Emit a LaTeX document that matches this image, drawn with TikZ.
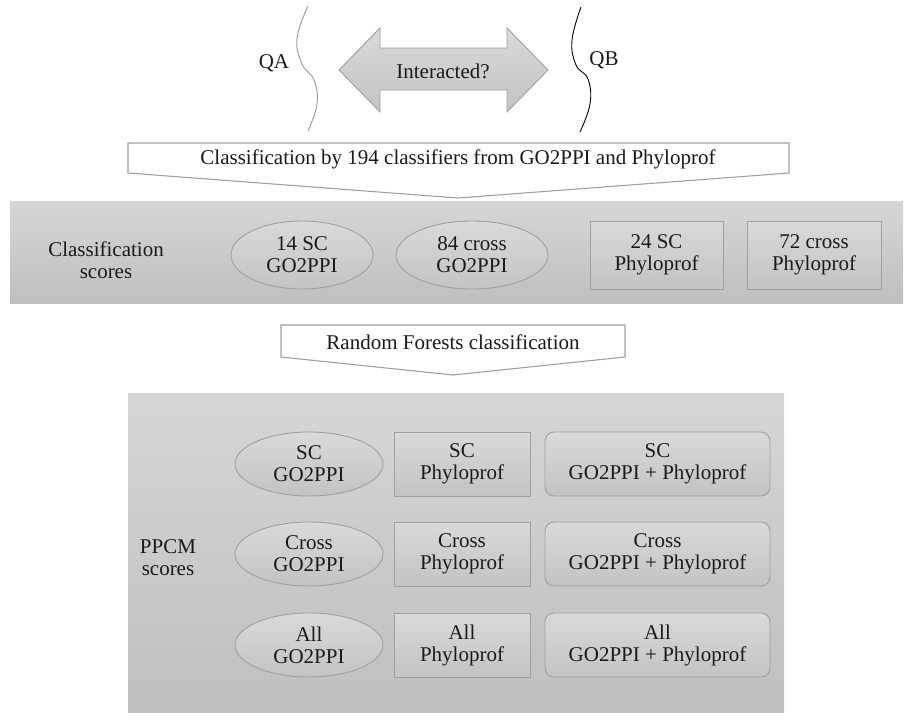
\documentclass[tikz,border=0pt]{standalone}
\usepackage{fontspec}
\setmainfont{Liberation Serif}
\usetikzlibrary{shapes.geometric}
\definecolor{bandtop}{HTML}{D6D6D6}
\definecolor{bandbot}{HTML}{BFBFBF}
\definecolor{ntop}{HTML}{D9D9D9}
\definecolor{nbot}{HTML}{C3C3C3}
\definecolor{nline}{HTML}{A0A0A0}
\definecolor{txt}{HTML}{1A1A1A}
\begin{document}
\begin{tikzpicture}[x=1pt,y=-1pt,
  every node/.style={font=\fontsize{21}{22}\selectfont, align=center, inner sep=0pt, text=txt},
  band/.style={top color=bandtop, bottom color=bandbot},
  shp/.style={draw=nline, line width=0.9pt, top color=ntop, bottom color=nbot},
  ell/.style={shp, ellipse},
  box/.style={shp, rectangle},
  rbox/.style={shp, rectangle, rounded corners=9pt},
  flowarrow/.style={draw=nline, line width=1.1pt, fill=white},
  brace/.style={line width=0.9pt}
]
\useasboundingbox (0,0) rectangle (906,721);

% top: QA / QB and double arrow
\draw[brace, draw=gray!80] plot[smooth, tension=0.7] coordinates {(308,6) (297,38) (302,64) (314,80) (317,104) (308,131)};
\node (qa) at (274,63) {QA};
\draw[brace, draw=black] plot[smooth, tension=0.7] coordinates {(581,7) (572,40) (576,65) (588,79) (590,104) (580,132)};
\node (qb) at (604,60) {QB};
\shade[top color=ntop, bottom color=nbot, draw=nline, line width=0.9pt]
  (339,70) -- (380,28) -- (380,48) -- (507,48) -- (507,28) -- (548,70)
  -- (507,112) -- (507,90) -- (380,90) -- (380,112) -- cycle;
\node (inter) at (443,71) {Interacted?};

% first flow arrow
\draw[flowarrow] (128,143) -- (789,143) -- (789,173) -- (458,198) -- (128,173) -- cycle;
\node (cls) at (458,159) {Classification by 194 classifiers from GO2PPI and Phyloprof};

% band 1
\shade[band] (10,201) rectangle (903,303);
\node (cs) at (106,260) {Classification\\scores};
\node[ell, minimum width=142pt, minimum height=68pt] (e1) at (302,255) {14 SC\\GO2PPI};
\node[ell, minimum width=152pt, minimum height=68pt] (e2) at (472,255) {84 cross\\GO2PPI};
\node[box, minimum width=133pt, minimum height=68pt] (r1) at (656.5,255) {24 SC\\Phyloprof};
\node[box, minimum width=134pt, minimum height=68pt] (r2) at (814,255) {72 cross\\Phyloprof};

% second flow arrow
\draw[flowarrow] (281,325) -- (625,325) -- (625,357) -- (453,375) -- (281,357) -- cycle;
\node (rf) at (453,342) {Random Forests classification};

% band 2
\shade[band] (128,393) rectangle (784,712);
\node (pp) at (168,558) {PPCM\\scores};
\node[ell, minimum width=148pt, minimum height=64pt] (a1) at (309,464) {SC\\GO2PPI};
\node[box, minimum width=136pt, minimum height=64pt] (a2) at (462,464) {SC\\Phyloprof};
\node[rbox, minimum width=225pt, minimum height=64pt] (a3) at (657.5,464) {SC\\GO2PPI + Phyloprof};
\node[ell, minimum width=148pt, minimum height=64pt] (b1) at (309,554) {Cross\\GO2PPI};
\node[box, minimum width=136pt, minimum height=64pt] (b2) at (462,554) {Cross\\Phyloprof};
\node[rbox, minimum width=225pt, minimum height=64pt] (b3) at (657.5,554) {Cross\\GO2PPI + Phyloprof};
\node[ell, minimum width=148pt, minimum height=64pt] (c1) at (309,645) {All\\GO2PPI};
\node[box, minimum width=136pt, minimum height=64pt] (c2) at (462,645) {All\\Phyloprof};
\node[rbox, minimum width=225pt, minimum height=64pt] (c3) at (657.5,645) {All\\GO2PPI + Phyloprof};
\end{tikzpicture}
\end{document}
